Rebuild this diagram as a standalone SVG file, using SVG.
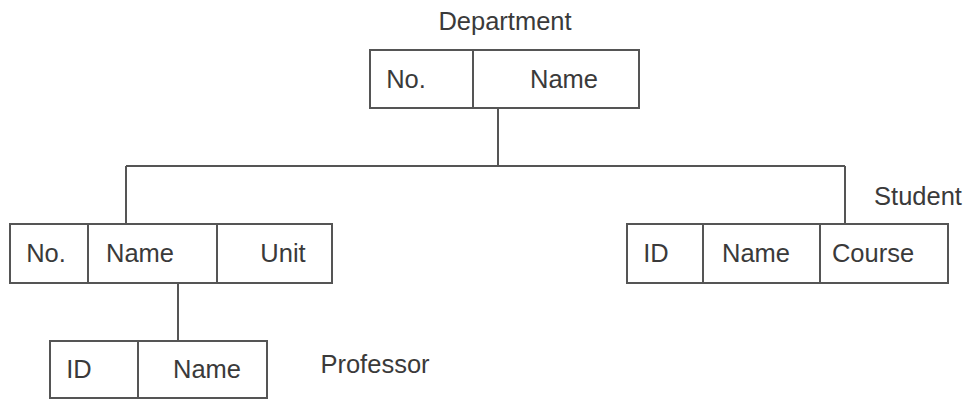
<svg xmlns="http://www.w3.org/2000/svg" width="971" height="400" viewBox="0 0 971 400">
<style>
.box{fill:#fff;stroke:#555;stroke-width:2}
.ln{fill:none;stroke:#555;stroke-width:2}
text{font-family:"Liberation Sans",Arial,sans-serif;font-size:25.5px;fill:#3a3a3a;text-anchor:middle}
</style>
<rect width="971" height="400" fill="#fff"/>
<g id="connectors">
<path class="ln" d="M498 108V166M126 166H845M126 166V224M845 166V224M178 283V341"/>
</g>
<g id="department">
<text x="505" y="30">Department</text>
<rect class="box" x="370" y="50" width="269" height="58"/>
<line class="ln" x1="473" y1="50" x2="473" y2="108"/>
<text x="406" y="88">No.</text>
<text x="564" y="88">Name</text>
</g>
<g id="unit">
<rect class="box" x="10" y="224" width="322" height="59"/>
<line class="ln" x1="88" y1="224" x2="88" y2="283"/>
<line class="ln" x1="217" y1="224" x2="217" y2="283"/>
<text x="46" y="262">No.</text>
<text x="140" y="262">Name</text>
<text x="283" y="262">Unit</text>
</g>
<g id="student">
<text x="918" y="205">Student</text>
<rect class="box" x="627" y="224" width="321" height="59"/>
<line class="ln" x1="703" y1="224" x2="703" y2="283"/>
<line class="ln" x1="820" y1="224" x2="820" y2="283"/>
<text x="656" y="262">ID</text>
<text x="756" y="262">Name</text>
<text x="873" y="262">Course</text>
</g>
<g id="professor">
<rect class="box" x="50" y="341" width="217" height="57"/>
<line class="ln" x1="138" y1="341" x2="138" y2="398"/>
<text x="79" y="378">ID</text>
<text x="207" y="378">Name</text>
<text x="375" y="373">Professor</text>
</g>
</svg>
